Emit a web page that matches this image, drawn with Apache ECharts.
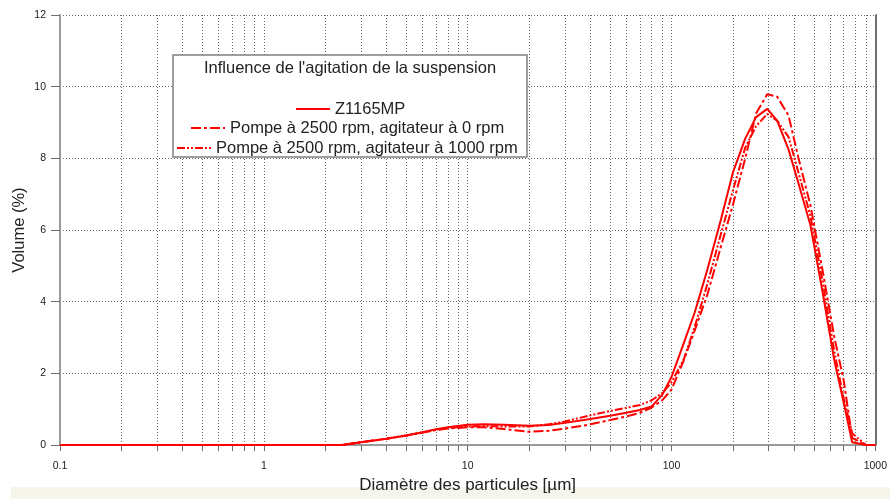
<!DOCTYPE html>
<html>
<head>
<meta charset="utf-8">
<script src="https://cdn.jsdelivr.net/npm/echarts@6/dist/echarts.min.js"></script>
<style>html,body{margin:0;padding:0;background:#fff}#c{width:890px;height:499px}</style>
</head>
<body>
<div id="c"></div>
<script>
// Particle diameters (µm)
const sizes = [0.1, 2.4, 3, 4, 5, 6, 7, 8, 10, 12, 15, 20, 25, 30, 40, 50, 60, 70, 80, 90, 100, 115, 130, 150, 175, 200, 230, 260, 295, 330, 375, 420, 480, 550, 630, 700, 770, 900, 1000];
// Volume (%)
const z1165mp   = [0, 0, 0.08, 0.18, 0.27, 0.36, 0.44, 0.50, 0.57, 0.58, 0.57, 0.54, 0.56, 0.62, 0.73, 0.82, 0.90, 0.98, 1.08, 1.40, 1.90, 2.85, 3.70, 4.90, 6.30, 7.60, 8.55, 9.15, 9.38, 9.05, 8.25, 7.30, 6.15, 4.30, 2.35, 1.18, 0.08, 0, 0];
const agit0     = [0, 0, 0.08, 0.18, 0.27, 0.35, 0.42, 0.46, 0.50, 0.50, 0.45, 0.37, 0.40, 0.46, 0.58, 0.70, 0.80, 0.90, 1.05, 1.25, 1.55, 2.37, 3.20, 4.20, 5.55, 6.70, 8.00, 9.25, 9.79, 9.72, 9.20, 8.00, 6.70, 4.90, 3.00, 1.80, 0.20, 0, 0];
const agit1000  = [0, 0, 0.08, 0.18, 0.27, 0.35, 0.43, 0.48, 0.52, 0.53, 0.52, 0.52, 0.58, 0.66, 0.83, 0.95, 1.04, 1.12, 1.25, 1.45, 1.75, 2.40, 3.30, 4.50, 5.90, 7.10, 8.30, 8.90, 9.24, 9.05, 8.60, 7.60, 6.40, 4.60, 2.60, 1.30, 0.33, 0, 0];
const seriesNames = ['Z1165MP', 'Pompe à 2500 rpm, agitateur à 0 rpm', 'Pompe à 2500 rpm, agitateur à 1000 rpm'];
// Axis ticks
const xLabelTicks = [0.1, 1, 10, 100, 1000];
const xGridTicks = [0.1, 0.2, 0.3, 0.4, 0.5, 0.6, 0.7, 0.8, 0.9,
                    1, 2, 3, 4, 5, 6, 7, 8, 9,
                    10, 20, 30, 40, 50, 60, 70, 80, 90,
                    100, 200, 300, 400, 500, 600, 700, 800, 900, 1000];
const legendTitle = "Influence de l'agitation de la suspension";

const pair = v => sizes.map((s, i) => [s, v[i]]);
const FONT = 'Liberation Sans, Arial, sans-serif';
const chart = echarts.init(document.getElementById('c'), null, {renderer: 'canvas'});
const dashes = ['solid', [10, 3, 3, 3], [8, 2, 2, 2, 2, 2]];
const legendLefts = [295, 190, 176];
const legendTops = [100, 119, 139];
const datas = [z1165mp, agit0, agit1000];
const GRID_COLOR = '#6a6a6a';

chart.setOption({
  animation: false,
  backgroundColor: '#ffffff',
  grid: {left: 60, right: 13, top: 15, bottom: 49},
  graphic: [
    {type: 'rect', z: 0, silent: true, shape: {x: 11, y: 487, width: 879, height: 12}, style: {fill: '#f5f5ec'}},
    {type: 'rect', z: 3, shape: {x: 173, y: 55, width: 354, height: 102}, style: {fill: '#ffffff', stroke: '#808080', lineWidth: 1.5}},
    {type: 'text', z: 10, style: {x: 350, y: 68, text: legendTitle, fill: '#222', font: '16.5px ' + FONT, textAlign: 'center', textVerticalAlign: 'middle'}}
  ],
  legend: seriesNames.map((n, i) => ({
    data: [n], left: legendLefts[i], top: legendTops[i], padding: 0, z: 10,
    itemWidth: 34, itemHeight: 10, itemGap: 7,
    itemStyle: {opacity: 0, color: 'transparent', borderWidth: 0},
    textStyle: {fontFamily: FONT, fontSize: 16.5, color: '#222', lineHeight: 18}
  })),
  xAxis: {
    type: 'log', logBase: 10, min: 0.1, max: 1000,
    name: 'Diamètre des particules [µm]', nameLocation: 'middle', nameGap: 28,
    nameTextStyle: {fontFamily: FONT, fontSize: 17, color: '#222'},
    axisLine: {onZero: false, lineStyle: {color: '#9a9a9a', width: 2}},
    axisTick: {customValues: xGridTicks, length: 6, lineStyle: {color: '#707070'}},
    axisLabel: {customValues: xLabelTicks, fontFamily: FONT, fontSize: 10.5, color: '#222', margin: 16,
                formatter: v => String(v)},
    splitLine: {show: true, lineStyle: {color: GRID_COLOR, type: [1, 2], width: 1}}
  },
  yAxis: [{
    type: 'value', min: 0, max: 12, interval: 2,
    name: 'Volume (%)', nameLocation: 'middle', nameGap: 32, nameMoveOverlap: false,
    nameTextStyle: {fontFamily: FONT, fontSize: 16.5, color: '#222'},
    axisLine: {show: true, lineStyle: {color: '#9a9a9a', width: 2}},
    axisTick: {show: true, length: 9, lineStyle: {color: '#707070'}},
    axisLabel: {fontFamily: FONT, fontSize: 10.5, color: '#222', margin: 14},
    splitLine: {show: true, lineStyle: {color: GRID_COLOR, type: [1, 2], width: 1}}
  }, {
    type: 'value', min: 0, max: 12, interval: 2, position: 'right',
    axisLine: {show: true, lineStyle: {color: '#707070', width: 2}},
    axisTick: {show: false}, axisLabel: {show: false}, splitLine: {show: false}
  }],
  series: seriesNames.map((n, i) => ({
    name: n, type: 'line', data: pair(datas[i]), symbol: 'none', z: 5,
    color: '#ff0000',
    lineStyle: {color: '#ff0000', width: 2, type: dashes[i]}
  }))
});
</script>
</body>
</html>
